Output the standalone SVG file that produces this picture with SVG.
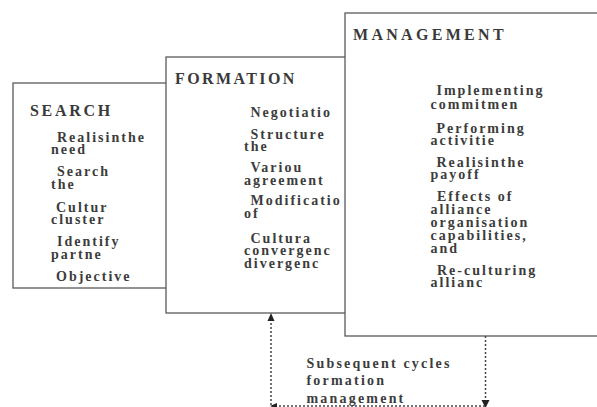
<svg xmlns="http://www.w3.org/2000/svg" width="597" height="407" viewBox="0 0 597 407">
<style>
.box{fill:#fff;stroke:#5a5a5a;stroke-width:1.3}
.title{font-family:"Liberation Serif",serif;font-size:16px;font-weight:bold;fill:#3a3a3a;letter-spacing:2.7px}
.item{font-family:"Liberation Serif",serif;font-size:14px;font-weight:bold;fill:#3c3c3c;letter-spacing:2px}
.dash{fill:none;stroke:#444;stroke-width:1.5;stroke-dasharray:2 2}
.head{fill:#222}
</style>
<rect width="597" height="407" fill="#fff"/>
<g id="search">
<rect class="box" x="13" y="83" width="160" height="205"/>
<text class="title" x="30" y="115.5" style="letter-spacing:2.7px">SEARCH</text>
<text class="item"><tspan x="57" y="141.5">Realisinthe</tspan><tspan x="51" y="154">need</tspan><tspan x="57" y="176">Search</tspan><tspan x="51" y="188.5">the</tspan><tspan x="56" y="211.5">Cultur</tspan><tspan x="51" y="224">cluster</tspan><tspan x="57" y="246">Identify</tspan><tspan x="51" y="258.5">partne</tspan><tspan x="56" y="280.5">Objective</tspan></text>
</g>
<g id="formation">
<rect class="box" x="166" y="57" width="190" height="256"/>
<text class="title" x="175" y="83.5" style="letter-spacing:2.4px">FORMATION</text>
<text class="item"><tspan x="250.5" y="116.5">Negotiatio</tspan><tspan x="250.5" y="138.5">Structure</tspan><tspan x="244" y="151">the</tspan><tspan x="250.5" y="171.5">Variou</tspan><tspan x="244" y="184.5">agreement</tspan><tspan x="250.5" y="205">Modificatio</tspan><tspan x="244" y="218">of</tspan><tspan x="250.5" y="242.5">Cultura</tspan><tspan x="244" y="255">convergenc</tspan><tspan x="244" y="267.5">divergenc</tspan></text>
</g>
<g id="management">
<rect class="box" x="345" y="13" width="270" height="323"/>
<text class="title" x="353" y="39.5" style="letter-spacing:3.3px">MANAGEMENT</text>
<text class="item"><tspan x="436.5" y="95">Implementing</tspan><tspan x="430.5" y="108.5">commitmen</tspan><tspan x="436.5" y="133">Performing</tspan><tspan x="430.5" y="144.5">activitie</tspan><tspan x="436.5" y="166.5">Realisinthe</tspan><tspan x="430.5" y="178.5">payoff</tspan><tspan x="437" y="200.5">Effects of</tspan><tspan x="430.5" y="214">alliance</tspan><tspan x="430.5" y="226.5">organisation</tspan><tspan x="430.5" y="239.5">capabilities,</tspan><tspan x="430.5" y="252.5">and</tspan><tspan x="437" y="274.5">Re-culturing</tspan><tspan x="430.5" y="287">allianc</tspan></text>
</g>
<g id="connectors">
<path class="dash" d="M485.5 336 V401"/>
<path class="dash" d="M485 406 H274"/>
<path class="dash" d="M271 405 V320"/>
<polygon class="head" points="271,313 267.5,321 274.5,321"/>
<polygon class="head" points="485.5,408 481.5,400 489.5,400"/>
<polygon class="head" points="270,406 277,403 277,409"/>
<text class="item" style="letter-spacing:2.2px"><tspan x="306.5" y="367.5">Subsequent cycles</tspan><tspan x="306.5" y="385">formation</tspan><tspan x="306.5" y="403">management</tspan></text>
</g>
</svg>
